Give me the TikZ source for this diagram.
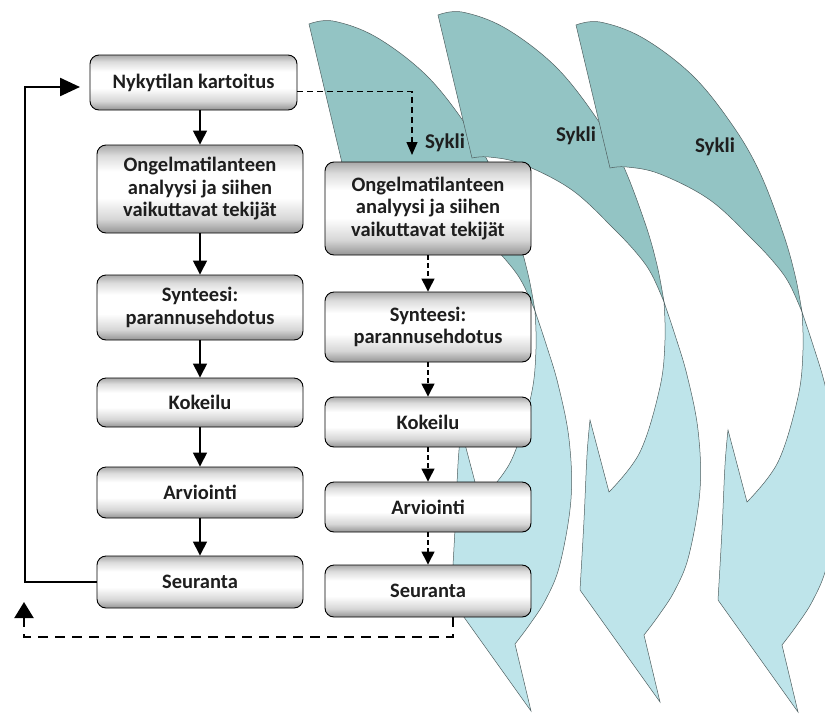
\documentclass[tikz,border=0pt]{standalone}
\usepackage{fontspec}
\setmainfont{Carlito}
\usepackage{xcolor}
\definecolor{ink}{HTML}{1E1E1E}
\definecolor{tealBack}{HTML}{93C4C4}
\definecolor{tealFront}{HTML}{BEE4EA}
\definecolor{tealEdge}{HTML}{4F5F60}
\usetikzlibrary{arrows.meta}
\pgfdeclareverticalshading{glossy}{100bp}{color(0bp)=(black!42); color(25bp)=(black!42);
  color(33bp)=(black!16); color(45bp)=(white); color(60bp)=(white);
  color(69bp)=(black!14); color(75bp)=(black!34); color(100bp)=(black!34)}

\begin{document}
\begin{tikzpicture}[
  x=1pt, y=-1pt,
  font=\bfseries\fontsize{20.5}{22.5}\selectfont,
  every node/.style={align=center, text=ink},
  stepbox/.style={rectangle, draw=black, line width=0.9pt, rounded corners=9pt,
    shading=glossy, minimum width=206pt, inner sep=2pt},
  cyclelabel/.style={font=\bfseries\fontsize{21}{24}\selectfont, inner sep=0pt},
  back/.style={fill=tealBack, draw=tealEdge, line width=0.5pt},
  front/.style={fill=tealFront, draw=tealEdge, line width=0.5pt},
  arrow/.style={-{Triangle[length=14pt, width=14pt]}, line width=1.4pt},
  darrow/.style={-{Triangle[length=13pt, width=13pt]}, line width=1.3pt,
    dash pattern=on 5pt off 3pt},
  toparrow/.style={-{Triangle[length=13pt, width=11pt]}, line width=1.2pt,
    dash pattern=on 6pt off 4pt},
  looparrow/.style={-{Triangle[length=20pt, width=18pt]}, line width=2.4pt},
  backarrow/.style={-{Triangle[length=16pt, width=19pt]}, line width=2pt,
    dash pattern=on 10pt off 7pt},
]
  \useasboundingbox (0,0) rectangle (825,713);
  \clip (0,0) rectangle (825,713);

  \foreach \dx/\dy in {-267/-1, -138/-10, 0/0} {
    \begin{scope}[shift={(\dx,\dy)}]
      \path[back] plot[smooth, tension=0.6] coordinates {(576,25) (600,22) (643,38)
          (693,76) (733,126) (760,173) (783,233) (795,275) (802,312)}
        -- plot[smooth, tension=0.6] coordinates {(802,312) (790,285) (777,266)
          (753,240) (710,200) (660,174) (627,167) (610,168)}
        -- cycle;
      \path[front] plot[smooth, tension=0.6] coordinates {(728,430) (725,465)
          (722,530) (718,600)}
        -- (798,712) -- (782,645)
        -- plot[smooth, tension=0.6] coordinates {(782,645) (797,625) (813,600)
          (827,565) (838,500) (836,440) (825,385) (813,345) (802,312)}
        -- plot[smooth, tension=0.6] coordinates {(802,312) (803,350) (798,397)
          (778,462) (747,502)}
        -- cycle;
    \end{scope}
  }

  \node[cyclelabel] (sykli1) at (445,143) {Sykli};
  \node[cyclelabel] (sykli2) at (576,136) {Sykli};
  \node[cyclelabel] (sykli3) at (715,147) {Sykli};

  \node[stepbox, minimum width=207pt, minimum height=55pt] (kart) at (193.5,82.5) {Nykytilan kartoitus};
  \node[stepbox, minimum height=88pt] (anal1) at (200,189) {Ongelmatilanteen\\analyysi ja siihen\\vaikuttavat tekijät};
  \node[stepbox, minimum height=65pt] (synt1) at (200,307.5) {Synteesi:\\parannusehdotus};
  \node[stepbox, minimum height=49pt] (kok1) at (200,402.5) {Kokeilu};
  \node[stepbox, minimum height=51pt] (arv1) at (200,492.5) {Arviointi};
  \node[stepbox, minimum height=52pt] (seur1) at (200,582) {Seuranta};

  \node[stepbox, minimum height=93pt] (anal2) at (428,208.5) {Ongelmatilanteen\\analyysi ja siihen\\vaikuttavat tekijät};
  \node[stepbox, minimum height=70pt] (synt2) at (428,327) {Synteesi:\\parannusehdotus};
  \node[stepbox, minimum height=50pt] (kok2) at (428,422) {Kokeilu};
  \node[stepbox, minimum height=50pt] (arv2) at (428,507) {Arviointi};
  \node[stepbox, minimum height=52pt] (seur2) at (428,591) {Seuranta};

  \draw[arrow] (anal1.north |- kart.south) -- (anal1.north);
  \draw[arrow] (anal1) -- (synt1);
  \draw[arrow] (synt1) -- (kok1);
  \draw[arrow] (kok1) -- (arv1);
  \draw[arrow] (arv1) -- (seur1);

  \draw[darrow] (anal2) -- (synt2);
  \draw[darrow] (synt2) -- (kok2);
  \draw[darrow] (kok2) -- (arv2);
  \draw[darrow] (arv2) -- (seur2);

  \coordinate (cyclein) at (412,155);
  \draw[toparrow] ([yshift=-9pt]kart.east) -| (cyclein);

  \coordinate (lcorner) at (25,87);
  \coordinate (kartin) at (80,87);
  \draw[looparrow] (seur1.west) -| (lcorner) -- (kartin);

  \coordinate (dcorner) at (453,637);
  \coordinate (dend) at (24,602);
  \draw[backarrow] (seur2.south -| dcorner) -- (dcorner) -| (dend);
\end{tikzpicture}
\end{document}
